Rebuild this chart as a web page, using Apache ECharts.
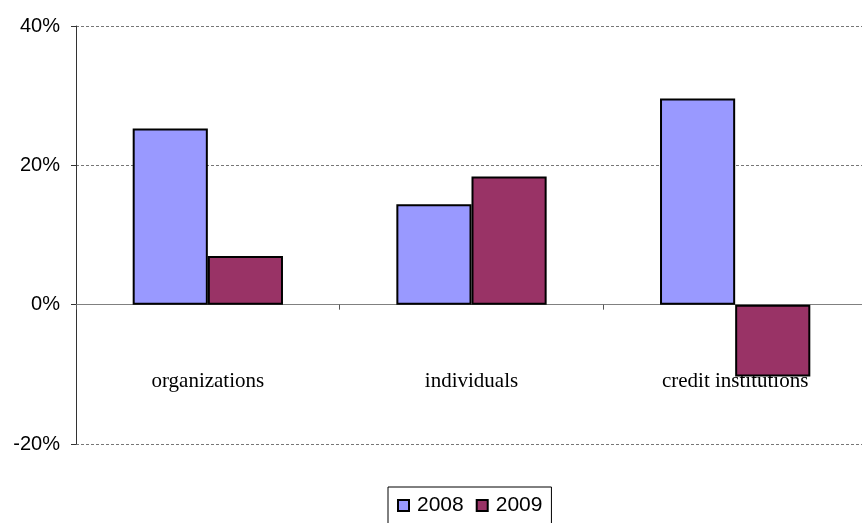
<!DOCTYPE html>
<html>
<head>
<meta charset="utf-8">
<script src="https://cdn.jsdelivr.net/npm/echarts@6/dist/echarts.min.js"></script>
<style>
  html, body { margin: 0; padding: 0; background: #fff; }
  #chart { width: 862px; height: 523px; }
</style>
</head>
<body>
<div id="chart"></div>
<script>
// 数据
var categories = ["organizations", "individuals", "credit institutions"];
var seriesNames = ["2008", "2009"];
var values2008 = [25.3, 14.4, 29.6];
var values2009 = [7.0, 18.4, -10.3];
var yTicks = [-20, 0, 20, 40];

var colors = ["#9999FF", "#993366"];

var myChart = echarts.init(document.getElementById("chart"));

var option = {
  animation: false,
  backgroundColor: "#fff",
  grid: {
    left: 76,
    right: -5,
    top: 26,
    height: 418,
    containLabel: false,
    outerBoundsMode: "none",
  },
  legend: {
    data: seriesNames,
    left: 388,
    top: 487,
    padding: [8, 9, 12, 9],
    itemGap: 12,
    itemWidth: 11,
    itemHeight: 11,
    icon: "rect",
    borderColor: "#000",
    borderWidth: 1,
    textStyle: {
      color: "#000",
      fontFamily: "Liberation Sans",
      fontSize: 21,
      padding: [0, 0, 0, 3],
    },
  },
  xAxis: [
    {
      // 零线与刻度
      type: "category",
      data: categories,
      axisLine: {
        onZero: true,
        lineStyle: { color: "#808080", width: 1 },
      },
      axisTick: {
        show: true,
        length: 5,
        interval: 0,
        lineStyle: { color: "#555" },
      },
      axisLabel: { show: false },
      splitLine: { show: false },
    },
    {
      // 类别标签
      type: "category",
      data: categories,
      position: "bottom",
      offset: -73,
      axisLine: { show: false, onZero: false },
      axisTick: { show: false },
      axisLabel: {
        interval: 0,
        margin: 0,
        color: "#000",
        fontFamily: "Liberation Serif",
        fontSize: 21,
      },
      splitLine: { show: false },
    },
  ],
  yAxis: {
    type: "value",
    min: yTicks[0],
    max: yTicks[yTicks.length - 1],
    interval: 20,
    axisLine: {
      show: true,
      lineStyle: { color: "#333", width: 1 },
    },
    axisTick: {
      show: true,
      length: 5,
      lineStyle: { color: "#333" },
    },
    axisLabel: {
      margin: 16,
      color: "#000",
      fontFamily: "Liberation Sans",
      fontSize: 20,
      formatter: "{value}%",
    },
    splitLine: {
      show: true,
      lineStyle: { color: "#777", type: [3, 2], width: 1 },
    },
  },
  series: [
    {
      name: seriesNames[0],
      type: "bar",
      data: values2008,
      barGap: "0%",
      barCategoryGap: "43%",
      itemStyle: { color: colors[0], borderColor: "#000", borderWidth: 2 },
    },
    {
      name: seriesNames[1],
      type: "bar",
      data: values2009,
      barGap: "0%",
      barCategoryGap: "43%",
      itemStyle: { color: colors[1], borderColor: "#000", borderWidth: 2 },
    },
  ],
};

myChart.setOption(option);
</script>
</body>
</html>
